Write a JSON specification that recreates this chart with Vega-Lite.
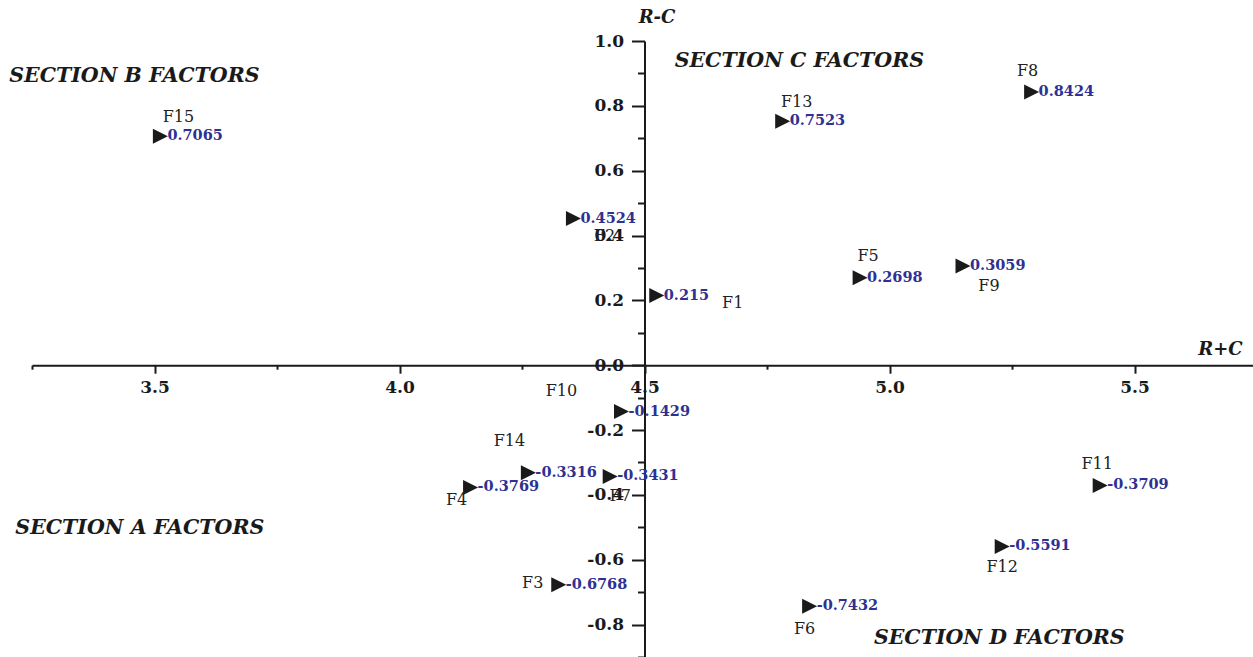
{
  "$schema": "https://vega.github.io/schema/vega-lite/v6.json",
  "width": 1225,
  "height": 616,
  "autosize": {"type": "none"},
  "padding": {"left": 32, "top": 41, "right": 0, "bottom": 0},
  "background": "white",
  "config": {"view": {"stroke": null}},
  "resolve": {"axis": {"x": "independent", "y": "independent"}},
  "datasets": {
    "factors": [
      {"factor": "F1", "rc_sum": 4.525, "rc_diff": 0.215},
      {"factor": "F2", "rc_sum": 4.355, "rc_diff": 0.4524},
      {"factor": "F3", "rc_sum": 4.325, "rc_diff": -0.6768},
      {"factor": "F4", "rc_sum": 4.145, "rc_diff": -0.3769},
      {"factor": "F5", "rc_sum": 4.94, "rc_diff": 0.2698},
      {"factor": "F6", "rc_sum": 4.837, "rc_diff": -0.7432},
      {"factor": "F7", "rc_sum": 4.43, "rc_diff": -0.3431},
      {"factor": "F8", "rc_sum": 5.29, "rc_diff": 0.8424},
      {"factor": "F9", "rc_sum": 5.15, "rc_diff": 0.3059},
      {"factor": "F10", "rc_sum": 4.453, "rc_diff": -0.1429},
      {"factor": "F11", "rc_sum": 5.43, "rc_diff": -0.3709},
      {"factor": "F12", "rc_sum": 5.23, "rc_diff": -0.5591},
      {"factor": "F13", "rc_sum": 4.782, "rc_diff": 0.7523},
      {"factor": "F14", "rc_sum": 4.263, "rc_diff": -0.3316},
      {"factor": "F15", "rc_sum": 3.512, "rc_diff": 0.7065}
    ],
    "sections": [
      {"label": "SECTION B FACTORS", "sx": 3.459, "sy": 0.892},
      {"label": "SECTION C FACTORS", "sx": 4.816, "sy": 0.938},
      {"label": "SECTION A FACTORS", "sx": 3.47, "sy": -0.503},
      {"label": "SECTION D FACTORS", "sx": 5.224, "sy": -0.84}
    ]
  },
  "layer": [
    {
      "data": {"name": "factors"},
      "mark": {"type": "point", "shape": "M-1,-1L1,0L-1,1Z", "filled": true, "size": 225, "color": "#1a1a1a", "opacity": 1},
      "encoding": {
        "x": {
          "field": "rc_sum", "type": "quantitative",
          "scale": {"domain": [3.25, 5.75], "nice": false, "zero": false},
          "axis": {
            "orient": "bottom",
            "title": "R+C", "titleFont": "DejaVu Serif", "titleFontSize": 18, "titleFontWeight": "bold", "titleFontStyle": "italic", "titleColor": "#1a1a1a",
            "titleAngle": 0, "titleX": 1188, "titleY": -16, "titleAlign": "center", "titleBaseline": "middle",
            "offset": -291.8, "grid": false,
            "values": [3.5, 4.0, 4.5, 5.0, 5.5],
            "labelExpr": "replace(format(datum.value, '.1f'), '\u2212', '-')",
            "labelFont": "DejaVu Serif", "labelFontSize": 17, "labelFontWeight": "bold", "labelColor": "#1a1a1a",
            "labelPadding": 6, "labelFlush": false, "labelOverlap": false,
            "domainColor": "#1a1a1a", "domainWidth": 2, "tickColor": "#1a1a1a", "tickWidth": 2, "tickSize": 8
          }
        },
        "y": {
          "field": "rc_diff", "type": "quantitative",
          "scale": {"domain": [-0.9, 1.0], "nice": false, "zero": false},
          "axis": {
            "orient": "left",
            "title": "R-C", "titleFont": "DejaVu Serif", "titleFontSize": 18, "titleFontWeight": "bold", "titleFontStyle": "italic", "titleColor": "#1a1a1a",
            "titleAngle": 0, "titleX": 12, "titleY": -24, "titleAlign": "center", "titleBaseline": "middle",
            "offset": -612.5, "grid": false,
            "values": [-0.8, -0.6, -0.4, -0.2, 0.0, 0.2, 0.4, 0.6, 0.8, 1.0],
            "labelExpr": "replace(format(datum.value, '.1f'), '\u2212', '-')",
            "labelFont": "DejaVu Serif", "labelFontSize": 17, "labelFontWeight": "bold", "labelColor": "#1a1a1a",
            "labelPadding": 8, "labelFlush": false, "labelOverlap": false,
            "domainColor": "#1a1a1a", "domainWidth": 2, "tickColor": "#1a1a1a", "tickWidth": 2, "tickSize": 13
          }
        }
      }
    },
    {
      "data": {"name": "factors"},
      "mark": {"type": "text", "align": "left", "baseline": "middle", "dx": 7, "font": "DejaVu Serif", "fontSize": 14.5, "fontWeight": "bold", "color": "#2e3192"},
      "encoding": {
        "x": {
          "field": "rc_sum", "type": "quantitative",
          "axis": {"orient": "bottom", "offset": -291.8, "title": null, "labels": false, "domain": false, "grid": false,
                   "values": [3.25, 3.75, 4.25, 4.75, 5.25, 5.75], "tickColor": "#1a1a1a", "tickWidth": 2, "tickSize": 4}
        },
        "y": {
          "field": "rc_diff", "type": "quantitative",
          "axis": {"orient": "left", "offset": -612.5, "title": null, "labels": false, "domain": false, "grid": false,
                   "values": [-0.9, -0.7, -0.5, -0.3, -0.1, 0.1, 0.3, 0.5, 0.7, 0.9], "tickColor": "#1a1a1a", "tickWidth": 2, "tickSize": 7}
        },
        "text": {"field": "rc_diff", "type": "nominal"}
      }
    },
    {
      "data": {"name": "factors"},
      "mark": {
        "type": "text", "align": "center", "baseline": "middle", "font": "DejaVu Serif", "fontSize": 16, "color": "#222222",
        "dx": {"expr": "({'F1':76,'F2':31,'F3':-26,'F4':-14,'F5':8,'F6':-5,'F7':10,'F8':-4,'F9':26,'F10':-60,'F11':-3,'F12':0,'F13':14,'F14':-19,'F15':18})[datum.factor]"},
        "dy": {"expr": "({'F1':7,'F2':17,'F3':-2,'F4':13,'F5':-22,'F6':23,'F7':20,'F8':-21,'F9':20,'F10':-21,'F11':-21,'F12':21,'F13':-19,'F14':-32,'F15':-19})[datum.factor]"}
      },
      "encoding": {
        "x": {"field": "rc_sum", "type": "quantitative", "axis": null},
        "y": {"field": "rc_diff", "type": "quantitative", "axis": null},
        "text": {"field": "factor", "type": "nominal"}
      }
    },
    {
      "data": {"name": "sections"},
      "mark": {"type": "text", "align": "center", "baseline": "middle", "font": "DejaVu Serif", "fontSize": 20.5, "fontWeight": "bold", "fontStyle": "italic", "color": "#1a1a1a"},
      "encoding": {
        "x": {"field": "sx", "type": "quantitative", "axis": null},
        "y": {"field": "sy", "type": "quantitative", "axis": null},
        "text": {"field": "label", "type": "nominal"}
      }
    }
  ]
}
